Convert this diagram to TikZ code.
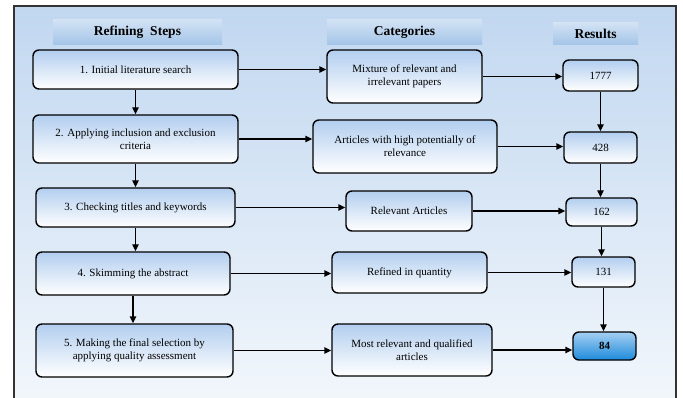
\documentclass[tikz,border=0pt]{standalone}
\usepackage{fontspec}
\setmainfont{Liberation Serif}
\usepackage{tikz}
\usetikzlibrary{arrows.meta}
\definecolor{bgtop}{RGB}{193,215,240}
\definecolor{bgbot}{RGB}{244,248,252}
\definecolor{boxtop}{RGB}{178,206,239}
\definecolor{boxmid}{RGB}{238,244,251}
\definecolor{hdtop}{RGB}{210,226,244}
\definecolor{hdbot}{RGB}{163,196,232}
\definecolor{fintop}{RGB}{165,208,243}
\definecolor{finbot}{RGB}{30,138,218}
\tikzset{
	stepbox/.style={draw=black, line width=1.4pt, rounded corners=6pt, top color=boxtop, middle color=boxmid, bottom color=white, align=center, inner sep=2pt, font=\fontsize{11}{13}\selectfont},
	headbar/.style={top color=hdtop, bottom color=hdbot, font=\fontsize{13.5}{15}\selectfont\bfseries},
	flow/.style={line width=1.4pt, -{Triangle[length=7pt,width=6.5pt]}}
}

\begin{document}
\begin{tikzpicture}[x=1pt, y=-1pt]
					\useasboundingbox (0, 0) rectangle (683, 398);
					\draw[draw=black!80, line width=1.2pt, top color=bgtop, bottom color=bgbot] (14, 6) rectangle (676, 420);
					% column headers
					\node[headbar, minimum width=169pt, minimum height=25pt] (H1) at (137.5, 32.5) {Refining\ \ Steps};
					\node[headbar, minimum width=155pt, minimum height=25pt] (H2) at (404.5, 32.5) {Categories};
					\node[headbar, minimum width=85pt, minimum height=22pt] (H3) at (595.5, 34) {Results};
					% refining steps
					\node[stepbox, minimum width=205pt, minimum height=39pt] (S1) at (135.5, 69.5) {1. Initial literature search};
					\node[stepbox, minimum width=205pt, minimum height=48pt] (S2) at (135.5, 139) {2. Applying inclusion and exclusion\\criteria};
					\node[stepbox, minimum width=199pt, minimum height=39pt] (S3) at (135.5, 207.5) {3. Checking titles and keywords};
					\node[stepbox, minimum width=194pt, minimum height=43pt] (S4) at (133, 273.5) {4. Skimming the abstract};
					\node[stepbox, minimum width=197pt, minimum height=53pt] (S5) at (134.5, 350.5) {5. Making the final selection by\\applying quality assessment};
					% categories
					\node[stepbox, minimum width=155pt, minimum height=53pt] (C1) at (404.5, 76.5) {Mixture of relevant and\\irrelevant papers};
					\node[stepbox, minimum width=184pt, minimum height=53pt] (C2) at (405, 146.5) {Articles with high potentially of\\relevance};
					\node[stepbox, minimum width=126pt, minimum height=40pt] (C3) at (409, 211) {Relevant Articles};
					\node[stepbox, minimum width=155pt, minimum height=41pt] (C4) at (409.5, 272.5) {Refined in quantity};
					\node[stepbox, minimum width=160pt, minimum height=52pt] (C5) at (412, 350) {Most relevant and qualified\\articles};
					% results
					\node[stepbox, minimum width=75pt, minimum height=31pt] (R1) at (600.5, 75.5) {1777};
					\node[stepbox, minimum width=73pt, minimum height=31pt] (R2) at (600.5, 147.5) {428};
					\node[stepbox, minimum width=71pt, minimum height=28pt] (R3) at (601.5, 212) {162};
					\node[stepbox, minimum width=63pt, minimum height=30pt] (R4) at (603.5, 272) {131};
					\node[stepbox, top color=fintop, bottom color=finbot, font=\fontsize{11}{13}\selectfont\bfseries, minimum width=63pt, minimum height=28pt] (R5) at (604.5, 346) {84};
					% arrows down the steps
					\draw[flow] (S1.south) -- (S1.south |- S2.north);
					\draw[flow] (S2.south) -- (S2.south |- S3.north);
					\draw[flow] (S3.south) -- (S3.south |- S4.north);
					\draw[flow] (S4.south) -- (S4.south |- S5.north);
					% arrows down the results
					\draw[flow] (R1.south) -- (R1.south |- R2.north);
					\draw[flow] (R2.south) -- (R2.south |- R3.north);
					\draw[flow] (R3.south) -- (R3.south |- R4.north);
					\draw[flow] (R4.south) -- (R4.south |- R5.north);
					% arrows across
					\draw[flow] (S1.east) -- (S1.east -| C1.west);
					\draw[flow] (S2.east) -- (S2.east -| C2.west);
					\draw[flow] (S3.east) -- (S3.east -| C3.west);
					\draw[flow] (S4.east) -- (S4.east -| C4.west);
					\draw[flow] (S5.east) -- (S5.east -| C5.west);
					\draw[flow] (C1.east) -- (C1.east -| R1.west);
					\draw[flow] (C2.east) -- (C2.east -| R2.west);
					\draw[flow] (C3.east) -- (C3.east -| R3.west);
					\draw[flow] (C4.east) -- (C4.east -| R4.west);
					\draw[flow] (C5.east) -- (C5.east -| R5.west);
				\end{tikzpicture}
\end{document}
